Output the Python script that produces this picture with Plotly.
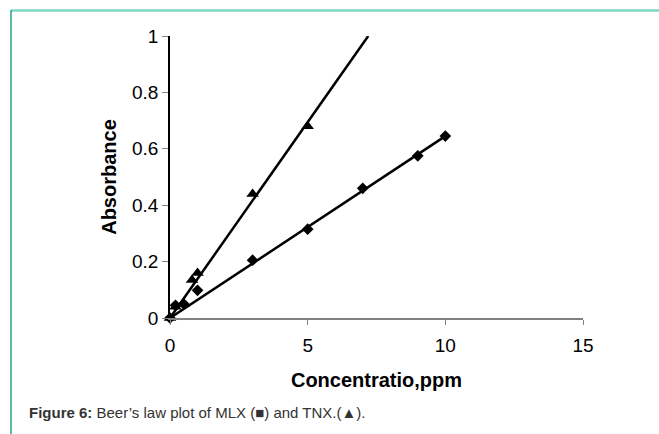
import plotly.graph_objects as go

# Data
mlx_conc = [0, 0.2, 0.5, 1, 3, 5, 7, 9, 10]
mlx_abs = [0, 0.045, 0.05, 0.098, 0.205, 0.315, 0.46, 0.575, 0.645]
tnx_conc = [0, 0.2, 0.5, 0.8, 1, 3, 5]
tnx_abs = [0, 0.04, 0.05, 0.135, 0.16, 0.44, 0.68]
# trend lines (end points)
mlx_fit_x = [0, 10]
mlx_fit_y = [0, 0.645]
tnx_fit_x = [0, 7.2]
tnx_fit_y = [0, 1.0]

x_ticks = [0, 5, 10, 15]
y_ticks = [0, 0.2, 0.4, 0.6, 0.8, 1]
y_tick_text = ["0", "0.2", "0.4", "0.6", "0.8", "1"]

W, H = 659, 434
L, R, T, B = 170, 76, 36, 116
PW, PH = W - L - R, H - T - B

def px(x):
    return (x - L) / PW

def py(y):
    return (H - B - y) / PH

fig = go.Figure()
fig.add_trace(go.Scatter(x=mlx_fit_x, y=mlx_fit_y, mode="lines",
                         line=dict(color="black", width=2.5), cliponaxis=False,
                         showlegend=False, hoverinfo="skip"))
fig.add_trace(go.Scatter(x=tnx_fit_x, y=tnx_fit_y, mode="lines",
                         line=dict(color="black", width=2.5), cliponaxis=False,
                         showlegend=False, hoverinfo="skip"))
fig.add_trace(go.Scatter(x=mlx_conc, y=mlx_abs, mode="markers", name="MLX",
                         marker=dict(symbol="diamond", size=9, color="black"),
                         cliponaxis=False, showlegend=False))
fig.add_trace(go.Scatter(x=tnx_conc, y=tnx_abs, mode="markers", name="TNX",
                         marker=dict(symbol="triangle-up", size=11, color="black"),
                         cliponaxis=False, showlegend=False))

fig.update_layout(
    width=W, height=H,
    margin=dict(l=L, r=R, t=T, b=B),
    paper_bgcolor="white", plot_bgcolor="white",
    font=dict(family="Arial, Liberation Sans, sans-serif", color="black"),
    xaxis=dict(range=[0, 15], tickvals=x_ticks, showgrid=False, zeroline=False,
               showline=True, linecolor="#808080", linewidth=1.5,
               ticks="outside", ticklen=5, tickcolor="#808080", tickwidth=1,
               ticklabelstandoff=4,
               tickfont=dict(size=19, color="black"),
               title=dict(text="<b>Concentratio,ppm</b>", font=dict(size=20), standoff=18)),
    yaxis=dict(range=[0, 1], tickvals=y_ticks, ticktext=y_tick_text, showgrid=False,
               zeroline=False, showline=True, linecolor="black", linewidth=1.5,
               ticks="outside", ticklen=6, tickcolor="#808080", tickwidth=1,
               tickfont=dict(size=19, color="black"),
               title=dict(text="<b>Absorbance</b>", font=dict(size=20), standoff=10)),
    shapes=[
        dict(type="line", xref="paper", yref="paper", x0=px(11), x1=px(659),
             y0=py(10.5), y1=py(10.5), line=dict(color="#7dd9c6", width=2.5)),
        dict(type="line", xref="paper", yref="paper", x0=px(11), x1=px(11),
             y0=py(10), y1=py(434), line=dict(color="#2aa080", width=1.5)),
    ],
    annotations=[
        dict(xref="paper", yref="paper", x=px(27), y=py(412), xanchor="left",
             yanchor="middle", showarrow=False,
             text="<b>Figure 6:</b> Beer\u2019s law plot of MLX (\u25a0) and TNX.(\u25b2).",
             font=dict(size=15, color="#333333")),
    ],
)

fig.write_html("out.html")
